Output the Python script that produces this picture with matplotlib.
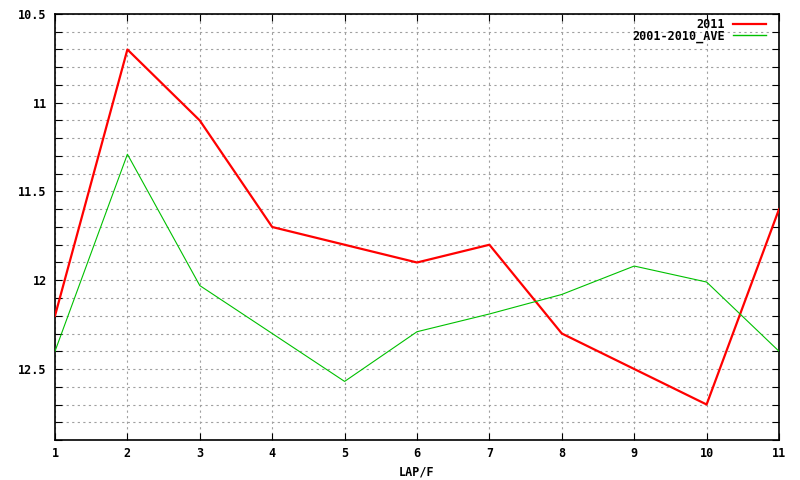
import matplotlib
matplotlib.use("Agg")
import matplotlib.pyplot as plt
from matplotlib.ticker import MultipleLocator

laps = [1, 2, 3, 4, 5, 6, 7, 8, 9, 10, 11]
y2011 = [12.2, 10.7, 11.1, 11.7, 11.8, 11.9, 11.8, 12.3, 12.5, 12.7, 11.6]
yave = [12.4, 11.29, 12.03, 12.3, 12.57, 12.29, 12.19, 12.08, 11.92, 12.01, 12.4]
yticks = [10.5, 11, 11.5, 12, 12.5]
ytick_labels = ["10.5", "11", "11.5", "12", "12.5"]

plt.rcParams['font.family'] = ['DejaVu Sans Mono']
plt.rcParams['font.weight'] = 'bold'
fs = 8.5

fig = plt.figure(figsize=(8, 4.8), dpi=100)
ax = fig.add_axes([55/800, 1-440/480, (779-55)/800, (440-14)/480])

ax.plot(laps, y2011, color='#ff0000', lw=1.6, label='2011', zorder=3)
ax.plot(laps, yave, color='#00c000', lw=0.8, label='2001-2010_AVE', zorder=3)

ax.set_xlim(1, 11)
ax.set_ylim(12.9, 10.5)
ax.set_xticks(laps)
ax.set_xticklabels([str(v) for v in laps], fontsize=fs, fontweight='bold')
ax.set_yticks(yticks)
ax.set_yticklabels(ytick_labels, fontsize=fs, fontweight='bold')
ax.yaxis.set_minor_locator(MultipleLocator(0.1))

ax.tick_params(which='both', direction='in', top=True, right=True, length=5, width=0.8)
ax.tick_params(axis='y', pad=6)
ax.tick_params(axis='x', pad=5)

ax.grid(True, which='major', axis='x', color='#a0a0a0', ls=(0, (2, 3)), lw=0.8)
ax.grid(True, which='both', axis='y', color='#a0a0a0', ls=(0, (2, 3)), lw=0.8)
for s in ax.spines.values():
    s.set_linewidth(1.2)

ax.set_xlabel('LAP/F', fontsize=fs, fontweight='bold', labelpad=4)

leg = ax.legend(loc='upper right', bbox_to_anchor=(0.982, 0.99), frameon=False,
                markerfirst=False, fontsize=fs, handlelength=2.8, handletextpad=0.68,
                labelspacing=-0.15, borderpad=0, borderaxespad=0)
for t in leg.get_texts():
    t.set_fontweight('bold')
leg.get_lines()[1].set_linewidth(1.0)

fig.savefig('out.png', dpi=100)
